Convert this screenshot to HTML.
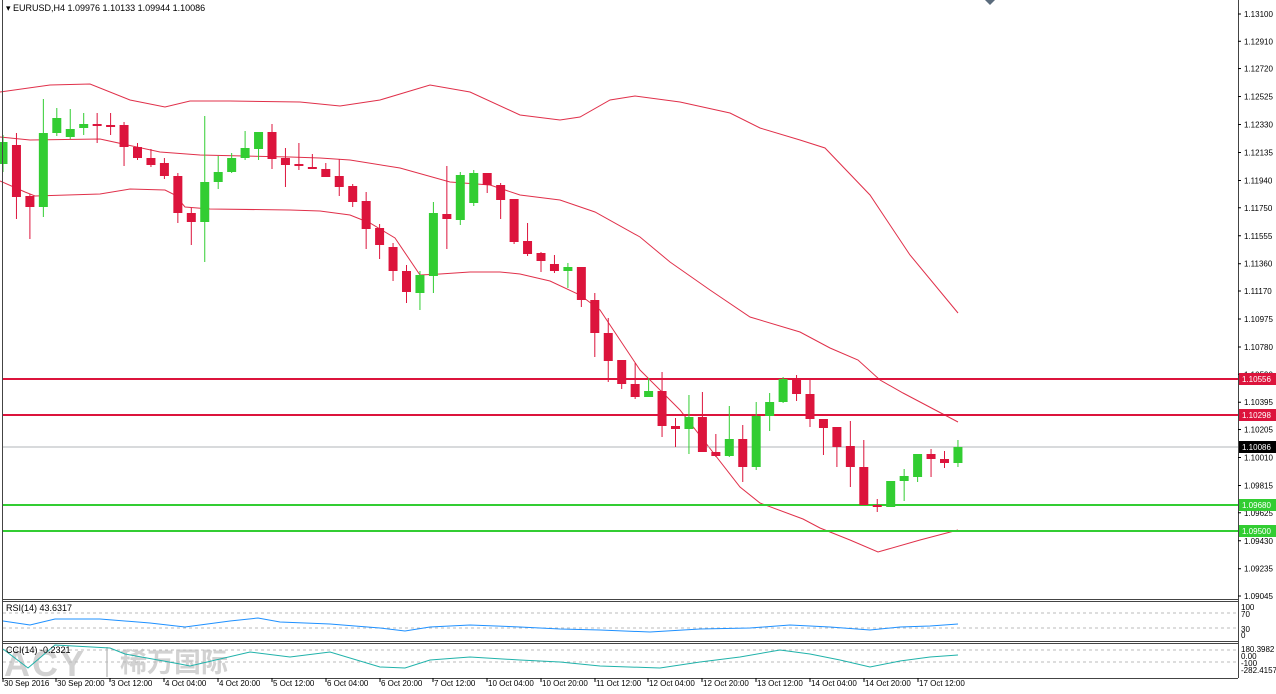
<!DOCTYPE html>
<html><head><meta charset="utf-8"><style>
html,body{margin:0;padding:0;background:#fff;width:1276px;height:694px;overflow:hidden}
svg{display:block;font-family:"Liberation Sans","Noto Sans CJK SC",sans-serif}
</style></head><body>
<svg id="c" width="1276" height="694" viewBox="0 0 1276 694" xmlns="http://www.w3.org/2000/svg">
<rect width="1276" height="694" fill="#fff"/>
<g fill="#d2d2d2" font-weight="bold">
<text x="4" y="676" font-size="36" font-family="Liberation Sans,sans-serif" letter-spacing="2">ACY</text>
<rect x="106" y="647" width="2" height="30"/>
<text x="120" y="672" font-size="27" font-family="Noto Sans CJK SC,sans-serif">稀万国际</text>
</g>
<g id="bands" fill="none" stroke="#e0304a" stroke-width="1"></g>
<line x1="2" y1="379" x2="1238" y2="379" stroke="#dc143c" stroke-width="2"/>
<line x1="2" y1="415" x2="1238" y2="415" stroke="#dc143c" stroke-width="2"/>
<line x1="2" y1="447" x2="1238" y2="447" stroke="#b0b4b8" stroke-width="1"/>
<line x1="2" y1="505" x2="1238" y2="505" stroke="#32cd32" stroke-width="2"/>
<line x1="2" y1="531" x2="1238" y2="531" stroke="#32cd32" stroke-width="2"/>
<g id="candles"></g>
<g fill="none" stroke="#444" stroke-width="1">
<line x1="2.5" y1="0" x2="2.5" y2="678"/>
<line x1="1238.5" y1="0" x2="1238.5" y2="678"/>
<line x1="2" y1="599.5" x2="1238" y2="599.5"/>
<line x1="2" y1="601.5" x2="1238" y2="601.5"/>
<line x1="2" y1="641.5" x2="1238" y2="641.5"/>
<line x1="2" y1="643.5" x2="1238" y2="643.5"/>
<line x1="2" y1="678.5" x2="1238" y2="678.5"/>
</g>
<g stroke="#bbb" stroke-dasharray="3,3">
<line x1="3" y1="613" x2="1237" y2="613"/>
<line x1="3" y1="628" x2="1237" y2="628"/>
<line x1="3" y1="650" x2="1237" y2="650"/>
<line x1="3" y1="662" x2="1237" y2="662"/>
</g>
<polyline fill="none" stroke="#1e90ff" stroke-width="1" points="3,621 30,625 55,619 100,619 150,623 185,627 230,621 258,618 280,622 330,624 380,628 405,631 430,627 470,625 520,627 560,629 600,630 650,632 700,629 750,628 790,625 830,627 870,630 900,627 930,626 958,624"/>
<polyline fill="none" stroke="#20b2aa" stroke-width="1" points="3,649 28,668 55,645 110,648 125,654 180,664 190,666 250,652 290,657 330,652 380,667 405,668 430,660 470,657 520,660 560,662 600,666 660,668 700,662 740,657 780,650 810,654 840,660 870,667 900,661 930,657 958,655"/>
<g font-size="9" fill="#000">
<text x="6" y="611">RSI(14) 43.6317</text>
<text x="6" y="653">CCI(14) -0.2321</text>
<text x="6" y="11">▾ EURUSD,H4  1.09976 1.10133 1.09944 1.10086</text>
</g>
<polygon points="985,0 995,0 990,5" fill="#5a6b7c"/>
<g font-size="8" fill="#000">
<text x="1241" y="610">100</text><text x="1241" y="617">70</text>
<text x="1241" y="632">30</text><text x="1241" y="638">0</text>
<text x="1241" y="652">180.3982</text><text x="1241" y="659">0.00</text>
<text x="1241" y="666">-100</text><text x="1241" y="673">-282.4157</text>
</g>
<g id="yt" font-size="8" fill="#000"></g>
<g id="xt" font-size="8" fill="#000"></g>
<rect x="1239" y="373" width="37" height="12" fill="#dc143c"/><text x="1242" y="382" font-size="8" fill="#fff">1.10556</text>
<rect x="1239" y="409" width="37" height="12" fill="#dc143c"/><text x="1242" y="418" font-size="8" fill="#fff">1.10298</text>
<rect x="1239" y="441" width="37" height="12" fill="#000"/><text x="1242" y="450" font-size="8" fill="#fff">1.10086</text>
<rect x="1239" y="499" width="37" height="12" fill="#32cd32"/><text x="1242" y="508" font-size="8" fill="#fff">1.09680</text>
<rect x="1239" y="525" width="37" height="12" fill="#32cd32"/><text x="1242" y="534" font-size="8" fill="#fff">1.09500</text>
</svg>
<script>
var NS="http://www.w3.org/2000/svg";
function el(p,t,a){var e=document.createElementNS(NS,t);for(var k in a)e.setAttribute(k,a[k]);p.appendChild(e);return e;}
var b=document.getElementById('bands');
[
"0,92 50,85 90,84 130,100 165,107 190,101 230,101 300,102 340,106 380,100 430,85 470,92 520,115 560,120 580,117 610,100 635,96 680,102 730,113 760,128 800,140 825,148 870,195 910,255 958,313",
"0,137 30,140 100,139 160,152 200,155 290,157 320,158 350,160 400,168 450,182 490,185 520,195 560,200 595,212 640,237 670,262 710,290 750,317 800,332 830,348 858,360 880,380 903,393 958,422",
"0,181 25,192 35,196 100,194 130,189 165,190 175,195 185,207 210,209 290,210 320,211 350,215 370,223 395,238 420,275 440,274 470,272 500,272 520,274 550,281 580,295 600,310 620,340 640,370 680,410 740,487 760,503 803,519 820,528 850,540 878,552 920,540 958,530"
].forEach(function(p){el(b,'polyline',{points:p});});
var C=[
['g',142,164,135,172],['r',145,197,133,219],['r',196,207,194,239],['g',133,207,99,217],['g',118,133,108,136],['g',129,137,109,139],['g',124,128,113,135],['r',124,125,113,143],['r',125,126,113,135],['r',125,147,122,166],
['r',147,158,143,160],['r',158,165,149,167],['r',163,176,158,179],['r',176,213,173,223],['r',213,222,208,245],['g',182,222,116,262],['g',172,182,156,189],['g',158,172,153,173],['g',148,158,131,160],['g',132,149,132,160],
['r',132,159,124,169],['r',158,165,148,187],['r',164,166,143,170],['r',167,169,154,169],['r',169,177,163,177],['r',176,187,159,196],['r',186,202,184,207],['r',201,229,192,249],['r',228,245,224,259],['r',247,271,243,281],
['r',271,292,265,303],['g',275,293,271,310],['g',213,276,202,293],['r',214,219,166,249],['g',175,220,172,225],['g',173,203,170,206],['r',173,185,173,193],['r',185,200,183,219],['r',199,242,199,244],['r',241,254,223,256],
['r',253,261,252,272],['r',264,271,255,273],['g',267,271,263,288],['r',267,300,267,307],['r',300,333,293,357],['r',333,361,318,382],['r',360,384,360,389],['r',384,397,363,399],['g',391,397,378,397],['r',391,426,372,437],
['r',426,429,418,447],['g',417,429,395,454],['r',417,452,392,452],['r',452,456,434,457],['g',439,456,406,457],['r',439,467,425,482],['g',416,467,402,470],['g',402,416,393,431],['g',379,402,377,403],['r',379,394,375,401],
['r',394,419,379,427],['r',419,428,419,455],['r',427,447,427,467],['r',446,467,421,487],['r',467,505,440,505],['r',505,507,499,512],['g',481,507,481,507],['g',476,481,469,501],['g',454,477,454,482],['r',454,459,449,477],
['r',459,463,451,468],['g',447,463,440,467]];
var cg=document.getElementById('candles');
C.forEach(function(c,i){var x=3+13.45*i;var col=c[0]=='g'?'#32cd32':'#dc143c';
el(cg,'line',{x1:x,x2:x,y1:c[3],y2:c[4],stroke:col,'stroke-width':1});
var h=Math.max(2,c[2]-c[1]);el(cg,'rect',{x:x-4.5,y:c[1],width:9,height:h,fill:col});});
var yt=document.getElementById('yt');
var L=["1.13100","1.12910","1.12720","1.12525","1.12330","1.12135","1.11940","1.11750","1.11555","1.11360","1.11170","1.10975","1.10780","1.10590","1.10395","1.10205","1.10010","1.09815","1.09625","1.09430","1.09235","1.09045"];
L.forEach(function(s){var y=14+(1.131-parseFloat(s))*14353;el(yt,'line',{x1:1238,x2:1241,y1:y,y2:y,stroke:'#000'});var t=el(yt,'text',{x:1244,y:y+3});t.textContent=s;});
var xt=document.getElementById('xt');
var X=[["30 Sep 2016",3],["30 Sep 20:00",56],["3 Oct 12:00",110],["4 Oct 04:00",164],["4 Oct 20:00",218],["5 Oct 12:00",272],["6 Oct 04:00",326],["6 Oct 20:00",380],["7 Oct 12:00",433],["10 Oct 04:00",487],["10 Oct 20:00",541],["11 Oct 12:00",595],["12 Oct 04:00",648],["12 Oct 20:00",702],["13 Oct 12:00",756],["14 Oct 04:00",810],["14 Oct 20:00",864],["17 Oct 12:00",918]];
X.forEach(function(a){el(xt,'line',{x1:a[1],x2:a[1],y1:678,y2:682,stroke:'#000'});var t=el(xt,'text',{x:a[1]+1,y:686});t.textContent=a[0];});
</script>
</body></html>
